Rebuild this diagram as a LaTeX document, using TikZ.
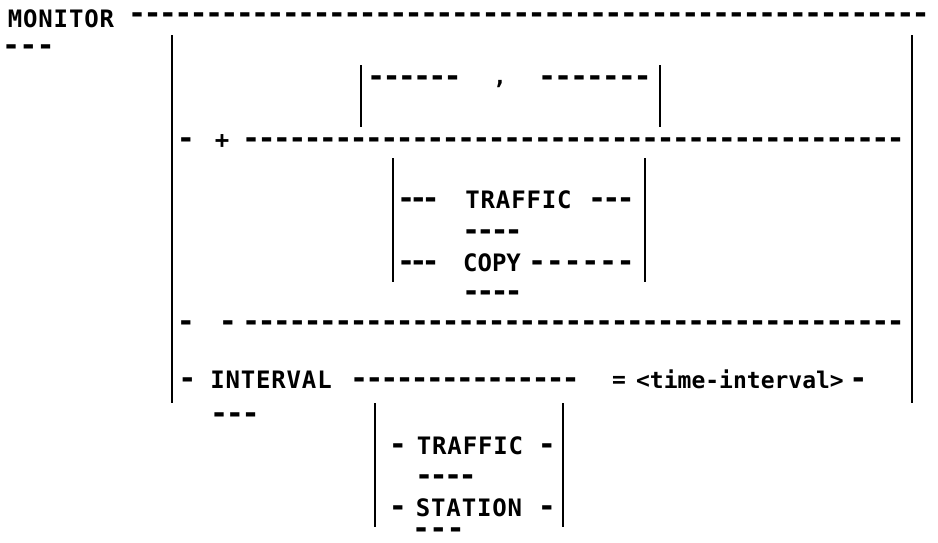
\documentclass[tikz,border=0pt]{standalone}
\usepackage{fontspec}
\usepackage{graphicx}
% typewriter face: capitals are set a little letter-spaced
\newfontfamily\twcaps{DejaVu Sans Mono}[LetterSpace=3.5]
\newfontfamily\twplain{DejaVu Sans Mono}
% a long, heavy typewriter hyphen in a narrow cell
\newcommand\dsh{\makebox[8.5pt]{\scalebox{1.25}[1.25]{-}}}
% a run of #1 hyphens spread evenly over the width #2
\newcount\dcnt
\newcommand\dashes[2]{\hbox to #2{\dcnt=#1\relax\dsh\loop\ifnum\dcnt>1 \hfil\dsh\advance\dcnt by -1\relax\repeat}}
\tikzset{
  word/.style={inner sep=0pt, anchor=base, font=\fontsize{24}{24}\selectfont\twcaps\bfseries},
  lower/.style={inner sep=0pt, anchor=base, font=\fontsize{23}{23}\selectfont\twplain\bfseries},
  rule/.style={inner sep=0pt, anchor=base, font=\fontsize{24}{24}\selectfont\twplain\bfseries},
  bar/.style={line width=1.7pt, line cap=butt},
}
\begin{document}
\begin{tikzpicture}[x=1pt, y=-1pt]
\fill[white] (0,0) rectangle (938,542);
\useasboundingbox (0,0) rectangle (938,542);

% command name and main line
\node[word] (mon) at (61,27.3) {MONITOR};
\node[rule] (monline) at (529,23.1) {\dashes{52}{792pt}};
\node[rule] (monabbr) at (28.5,55.1) {\dashes{3}{43pt}};

% outer bracket
\coordinate (oLt) at (172,35);  \coordinate (oLb) at (172,403);
\coordinate (oRt) at (912,35);  \coordinate (oRb) at (912,403);
\draw[bar] (oLt) -- (oLb);
\draw[bar] (oRt) -- (oRb);

% repeat loop with comma separator
\coordinate (cLt) at (361,65);  \coordinate (cLb) at (361,127);
\coordinate (cRt) at (660,65);  \coordinate (cRb) at (660,127);
\draw[bar] (cLt) -- (cLb);
\draw[bar] (cRt) -- (cRb);
\node[rule] (cdashA) at (414.5,86.1) {\dashes{6}{85pt}};
\node[lower] (comma) at (500,84) {,};
\node[rule] (cdashB) at (595,86.1) {\dashes{7}{104pt}};

% "+" branch
\node[rule] (pdash) at (186,148.1) {\dsh};
\node[rule] (plus) at (222,148) {+};
\node[rule] (pline) at (573.5,148.1) {\dashes{43}{653pt}};

% TRAFFIC / COPY choice
\coordinate (tLt) at (393,158);  \coordinate (tLb) at (393,282);
\coordinate (tRt) at (645,158);  \coordinate (tRb) at (645,282);
\draw[bar] (tLt) -- (tLb);
\draw[bar] (tRt) -- (tRb);
\node[rule] (trA) at (418.5,208.1) {\dashes{3}{33pt}};
\node[word] (traffic) at (518.5,208.8) {TRAFFIC};
\node[rule] (trB) at (611.5,208.1) {\dashes{3}{37pt}};
\node[rule] (trabbr) at (492.5,240.1) {\dashes{4}{51pt}};
\node[rule] (cpA) at (418.5,271.1) {\dashes{3}{33pt}};
\node[word] (copy) at (492,271.8) {\addfontfeature{LetterSpace=0}COPY};
\node[rule] (cpB) at (581.5,271.1) {\dashes{6}{97pt}};
\node[rule] (cpabbr) at (492.5,301.1) {\dashes{4}{51pt}};

% "-" branch
\node[rule] (mdashA) at (186,331.1) {\dsh};
\node[rule] (mdashB) at (228,331.1) {\dsh};
\node[rule] (mline) at (573.5,331.1) {\dashes{43}{653pt}};

% INTERVAL branch
\node[rule] (idash) at (187.5,388.1) {\dsh};
\node[word] (interval) at (271,388.8) {INTERVAL};
\node[rule] (iline) at (465,388.1) {\dashes{15}{220pt}};
\node[lower] (equals) at (619,387.6) {=};
\node[lower] (tival) at (740,388.8) {<time-interval>};
\node[rule] (iend) at (858.5,388.1) {\dsh};
\node[rule] (intabbr) at (235,423.1) {\dashes{3}{40pt}};

% TRAFFIC / STATION choice
\coordinate (sLt) at (375,403);  \coordinate (sLb) at (375,527);
\coordinate (sRt) at (563,403);  \coordinate (sRb) at (563,527);
\draw[bar] (sLt) -- (sLb);
\draw[bar] (sRt) -- (sRb);
\node[rule] (stA) at (398,454.1) {\dsh};
\node[word] (traffic2) at (470,454.8) {TRAFFIC};
\node[rule] (stB) at (547,454.1) {\dsh};
\node[rule] (traabbr2) at (446,485.1) {\dashes{4}{52pt}};
\node[rule] (snA) at (398,516.1) {\dsh};
\node[word] (station) at (469,516.8) {STATION};
\node[rule] (snB) at (547,516.1) {\dsh};
\node[rule] (staabbr) at (438.5,538) {\dashes{3}{43pt}};
\end{tikzpicture}
\end{document}
